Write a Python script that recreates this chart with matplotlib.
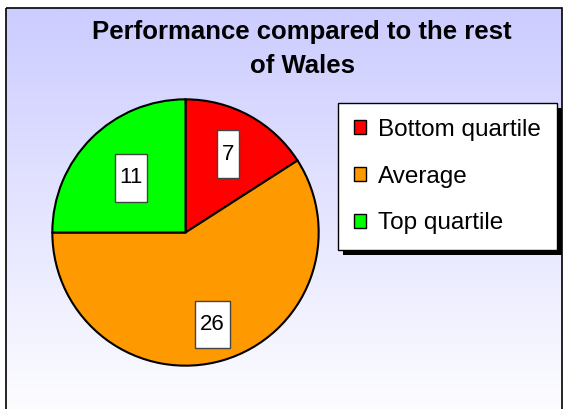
import matplotlib.pyplot as plt
import numpy as np
from matplotlib.path import Path
from matplotlib.patches import Rectangle
from matplotlib.transforms import IdentityTransform

# chart data
categories = ['Bottom quartile', 'Average', 'Top quartile']
counts = [7, 26, 11]
colours = ['#FF0000', '#FF9900', '#00FF00']

plt.rcParams['font.family'] = ['Liberation Sans', 'DejaVu Sans']

W, H = 565, 409
fig = plt.figure(figsize=(W / 100, H / 100), dpi=100)
fig.patch.set_facecolor('white')

# gradient background (lavender at the top fading to white)
bg = fig.add_axes([0, 0, 1, 1], zorder=0)
bg.axis('off')
grad = np.linspace(0, 1, 256).reshape(-1, 1)
top = np.array([204, 204, 255]) / 255.0
bottom = np.array([255, 255, 255]) / 255.0
img = top + (bottom - top) * grad[..., None]
bg.imshow(img, extent=(6, 562, H + 20, 8), aspect='auto', interpolation='bilinear')
bg.add_patch(Rectangle((6, 8), 556, H + 20, fill=False, edgecolor='black', lw=1.2))
bg.set_xlim(0, W)
bg.set_ylim(H, 0)

fig.text(302 / W, 1 - 20 / H, 'Performance compared to the rest\nof Wales',
         ha='center', va='top', fontsize=18.5, fontweight='bold',
         linespacing=1.55)


def tall_box(x0, y0, width, height, mutation_size):
    # narrow horizontal padding, tall vertical padding like the Excel labels
    px = 0.21 * mutation_size
    py = 0.6 * mutation_size
    x0, y0 = x0 - px, y0 - py
    x1, y1 = x0 + width + 2 * px, y0 + height + 2 * py
    return Path([(x0, y0), (x1, y0), (x1, y1), (x0, y1), (x0, y0)], closed=True)


cx, cy, r = 185.5, 232.5, 134.5
ax = fig.add_axes([(cx - r) / W, (H - cy - r) / H, 2 * r / W, 2 * r / H], zorder=1)
total = sum(counts)
wedges, texts, autotexts = ax.pie(
    counts, colors=colours, startangle=90, counterclock=False,
    autopct=lambda p: '%d' % round(p * total / 100.0), pctdistance=0.66,
    wedgeprops=dict(edgecolor='black', linewidth=1.5),
    textprops=dict(fontsize=16, color='black'))

# push each label along its wedge's mid-angle, a bit like Excel does
label_dist = [0.67, 0.72, 0.58]
for w, t, d in zip(wedges, autotexts, label_dist):
    mid = np.deg2rad((w.theta1 + w.theta2) / 2)
    t.set_position((d * np.cos(mid), d * np.sin(mid)))
    t.set_bbox(dict(boxstyle=tall_box, facecolor='white', edgecolor='#444444', lw=1))
ax.set_xlim(-1.01, 1.01)
ax.set_ylim(-1.01, 1.01)

leg = fig.legend(wedges, categories, loc='upper left',
                 bbox_to_anchor=(338 / W, 1 - 103 / H), fontsize=17.5,
                 frameon=True, fancybox=False, shadow=False,
                 edgecolor='black', framealpha=1, borderpad=0.65,
                 labelspacing=1.02, handlelength=0.5, handleheight=0.5,
                 handletextpad=0.5, borderaxespad=0)
leg.get_frame().set_linewidth(1.0)
for h in leg.legend_handles:
    h.set_edgecolor('black')
    h.set_linewidth(1.0)
leg.set_zorder(3)

# solid drop shadow under the legend box
fig.canvas.draw()
bb = leg.get_frame().get_window_extent(fig.canvas.get_renderer())
shadow = Rectangle((bb.x0 + 5, bb.y0 - 5), bb.width, bb.height,
                   transform=IdentityTransform(), facecolor='black',
                   edgecolor='none', zorder=2.5)
fig.add_artist(shadow)

fig.savefig('out.png', dpi=100)
